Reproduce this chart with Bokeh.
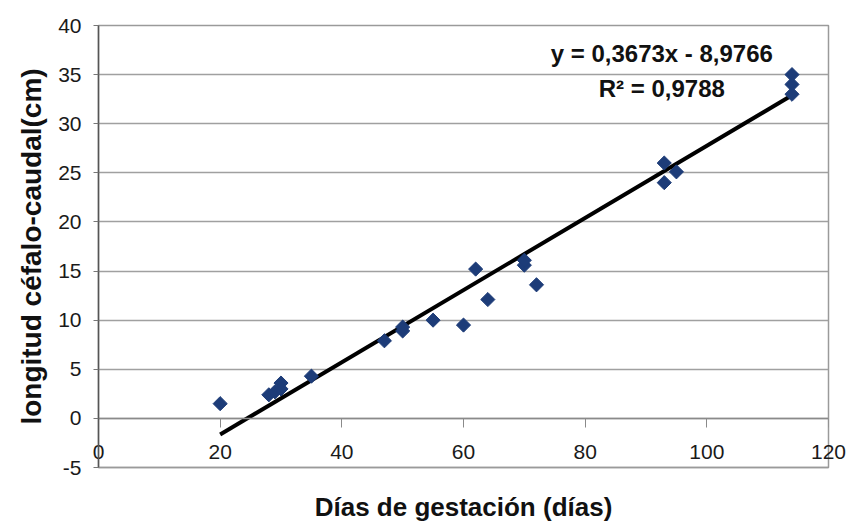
import math
from bokeh.plotting import figure
from bokeh.models import Range1d, Label, FixedTicker, LinearAxis
from bokeh.embed import file_html
from bokeh.resources import INLINE

# ---- data ----
dias = [20, 28, 29, 30, 30, 35, 47, 50, 50, 55, 60, 62, 64, 70, 70, 72, 93, 93, 95, 114, 114, 114]
longitud = [1.5, 2.4, 2.7, 3.6, 3.0, 4.3, 7.9, 8.9, 9.3, 10.0, 9.5, 15.2, 12.1, 15.6, 16.1, 13.6, 26.0, 24.0, 25.1, 33.0, 34.0, 35.0]

slope = 0.3673
intercept = -8.9766
r2_text = "0,9788"
eq_text = "y = 0,3673x - 8,9766"

x_ticks = [0, 20, 40, 60, 80, 100, 120]
y_ticks = [-5, 0, 5, 10, 15, 20, 25, 30, 35, 40]
y_tick_labels = {t: str(t) for t in y_ticks}   # plain hyphen for "-5"

x_title = "Días de gestación (días)"
y_title = "longitud céfalo-caudal(cm)"

FONT = "Liberation Sans"
TXT = "#1a1a1a"

p = figure(width=851, height=525, x_range=Range1d(0, 120), y_range=Range1d(-5, 40),
           output_backend="svg", toolbar_location=None,
           min_border_left=98, min_border_right=23, min_border_top=25, min_border_bottom=58)

p.background_fill_color = "white"
p.border_fill_color = "white"
p.outline_line_color = "#9a9a9a"
p.outline_line_width = 1.5

# grid
p.xgrid.visible = False
p.ygrid.ticker = FixedTicker(ticks=y_ticks)
p.ygrid.grid_line_color = "#a0a0a0"
p.ygrid.grid_line_width = 1.5

# bottom axis: tick labels sit just above the frame bottom, plus the axis title
xa = p.xaxis[0]
xa.ticker = FixedTicker(ticks=x_ticks)
xa.axis_line_color = "#9a9a9a"
xa.axis_line_width = 1.5
xa.major_tick_line_color = None
xa.major_tick_out = 0
xa.major_tick_in = 0
xa.minor_tick_line_color = None
xa.major_label_standoff = -23
xa.major_label_text_font = FONT
xa.major_label_text_font_size = "21px"
xa.major_label_text_color = TXT
xa.axis_label = x_title
xa.axis_label_text_font = FONT
xa.axis_label_text_font_style = "bold"
xa.axis_label_text_font_size = "26px"
xa.axis_label_text_color = "#111111"
xa.axis_label_standoff = 30

# tick marks hanging down from the y = 0 line
zero_axis = LinearAxis(fixed_location=0, ticker=FixedTicker(ticks=x_ticks),
                       axis_line_color="#8a8a8a", axis_line_width=1.5,
                       major_tick_line_color="#8a8a8a", major_tick_out=0, major_tick_in=9,
                       minor_tick_line_color=None, major_label_standoff=0,
                       major_label_overrides={t: "" for t in x_ticks})
p.add_layout(zero_axis, "above")

# y axis
ya = p.yaxis[0]
ya.ticker = FixedTicker(ticks=y_ticks)
ya.major_label_overrides = y_tick_labels
ya.axis_line_color = "#555555"
ya.axis_line_width = 1.5
ya.major_tick_line_color = "#777777"
ya.major_tick_out = 5
ya.major_tick_in = 0
ya.minor_tick_line_color = None
ya.major_label_standoff = 12
ya.major_label_text_font = FONT
ya.major_label_text_font_size = "21px"
ya.major_label_text_color = TXT
ya.axis_label = y_title
ya.axis_label_text_font = FONT
ya.axis_label_text_font_style = "bold"
ya.axis_label_text_font_size = "28px"
ya.axis_label_text_color = "#111111"
ya.axis_label_standoff = 8

# trend line over the data span
x0, x1 = min(dias), max(dias)
p.line([x0, x1], [slope * x0 + intercept, slope * x1 + intercept], line_color="black", line_width=4)

# points
p.scatter(dias, longitud, marker="square", size=10, angle=math.pi / 4,
          fill_color="#1d3c78", line_color="#1d3c78")

# equation labels
p.add_layout(Label(x=92.6, y=37.2, text=eq_text, text_align="center", text_baseline="middle",
                   text_font=FONT, text_font_style="bold", text_font_size="24px", text_color="#111111"))
p.add_layout(Label(x=92.6, y=33.6, text="R\u00b2 = " + r2_text, text_align="center", text_baseline="middle",
                   text_font=FONT, text_font_style="bold", text_font_size="24px", text_color="#111111"))

open("out.html", "w").write(file_html(p, INLINE))
